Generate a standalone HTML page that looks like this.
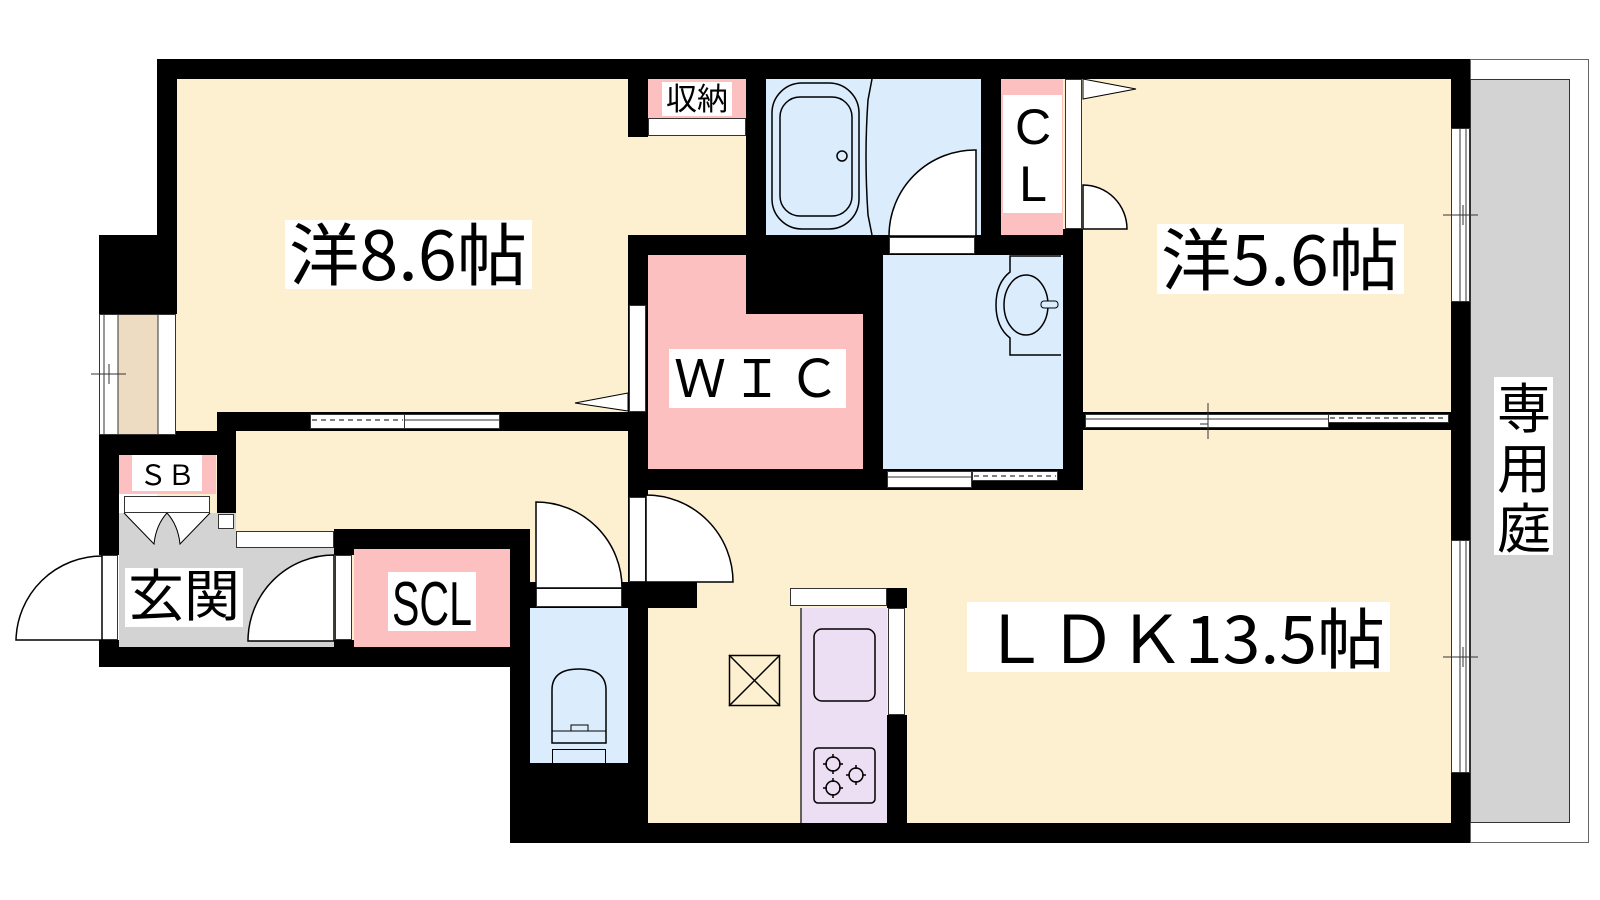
<!DOCTYPE html>
<html><head><meta charset="utf-8"><style>html,body{margin:0;padding:0;background:#fff}svg{display:block}</style></head>
<body>
<svg width="1600" height="900" viewBox="0 0 1600 900" xmlns="http://www.w3.org/2000/svg" font-family="'Liberation Sans','Noto Sans CJK JP',sans-serif">
<rect width="1600" height="900" fill="#fff"/>
<rect x="157" y="59" width="1294" height="784" fill="#fdf0d1"/>
<rect x="0" y="667" width="510" height="233" fill="#fff"/>
<rect x="1470.5" y="59.5" width="118" height="783" fill="#fff" stroke="#666"/>
<rect x="1470.5" y="79.5" width="99" height="743" fill="#d3d3d3" stroke="#333"/>
<g fill="#000">
<rect x="157" y="59" width="1313" height="20"/>
<rect x="157" y="59" width="20" height="176"/>
<rect x="99" y="235" width="78" height="79"/>
<rect x="217" y="412" width="411" height="19"/>
<rect x="99" y="431" width="137" height="24"/>
<rect x="99" y="431" width="20" height="124"/>
<rect x="217" y="412" width="19" height="136"/>
<rect x="99" y="640" width="20" height="27"/>
<rect x="99" y="647" width="431" height="20"/>
<rect x="334" y="529" width="196" height="20"/>
<rect x="334" y="549" width="20" height="6"/>
<rect x="334" y="640" width="20" height="7"/>
<rect x="510" y="529" width="20" height="314"/>
<rect x="510" y="763" width="138" height="80"/>
<rect x="510" y="582" width="187" height="26"/>
<rect x="628" y="79" width="20" height="58"/>
<rect x="628" y="235" width="20" height="608"/>
<rect x="746" y="59" width="20" height="176"/>
<rect x="981" y="59" width="20" height="176"/>
<rect x="628" y="235" width="455" height="20"/>
<rect x="628" y="235" width="255" height="255"/>
<rect x="628" y="469" width="455" height="21"/>
<rect x="1063" y="229" width="20" height="261"/>
<rect x="1083" y="412" width="368" height="18"/>
<rect x="1451" y="59" width="19" height="784"/>
<rect x="510" y="823" width="960" height="20"/>
<rect x="887" y="588" width="20" height="20"/>
<rect x="887" y="715" width="20" height="108"/>
</g>
<rect x="99.5" y="314.5" width="76" height="120" fill="#fff" stroke="#333"/>
<rect x="118" y="315" width="40" height="119" fill="#eddcc2"/>
<line x1="104" y1="314" x2="104" y2="435" stroke="#333"/>
<line x1="118" y1="314" x2="118" y2="435" stroke="#333"/>
<line x1="158" y1="314" x2="158" y2="435" stroke="#333"/>
<line x1="91" y1="374" x2="126" y2="374" stroke="#333"/>
<line x1="109" y1="364" x2="109" y2="384" stroke="#333"/>
<rect x="310.5" y="414.5" width="94" height="14" fill="#fff" stroke="#333"/>
<rect x="404.5" y="414.5" width="95" height="14" fill="#fff" stroke="#333"/>
<line x1="312" y1="420" x2="403" y2="420" stroke="#000" stroke-dasharray="5,4"/>
<line x1="404" y1="420" x2="500" y2="420" stroke="#333"/>
<rect x="1085.5" y="414.5" width="243" height="13" fill="#fff" stroke="#333"/>
<line x1="1085" y1="419" x2="1328" y2="419" stroke="#333"/>
<rect x="1328.5" y="414.5" width="120" height="8" fill="#fff" stroke="#333"/>
<line x1="1330" y1="418" x2="1447" y2="418" stroke="#000" stroke-dasharray="5,4"/>
<line x1="1208" y1="403" x2="1208" y2="439" stroke="#333"/>
<line x1="1200" y1="424" x2="1208" y2="424" stroke="#333"/>
<rect x="887.5" y="471.5" width="84" height="16" fill="#fff" stroke="#333"/>
<line x1="887" y1="477" x2="972" y2="477" stroke="#333"/>
<rect x="972.5" y="471.5" width="85" height="9" fill="#fff" stroke="#333"/>
<line x1="974" y1="476" x2="1056" y2="476" stroke="#000" stroke-dasharray="5,4"/>
<polygon points="628,393 575,403 628,411" fill="#fff" stroke="#000"/>
<polygon points="1083,79 1136,89 1083,99" fill="#fff" stroke="#000"/>
<rect x="1451.5" y="128.5" width="18" height="173" fill="#fff" stroke="#333"/>
<line x1="1460" y1="128" x2="1460" y2="302" stroke="#333"/><line x1="1466" y1="128" x2="1466" y2="302" stroke="#333"/>
<line x1="1443" y1="215" x2="1478" y2="215" stroke="#333"/><line x1="1463" y1="205" x2="1463" y2="225" stroke="#333"/>
<rect x="1451.5" y="540.5" width="18" height="232" fill="#fff" stroke="#333"/>
<line x1="1460" y1="540" x2="1460" y2="773" stroke="#333"/><line x1="1466" y1="540" x2="1466" y2="773" stroke="#333"/>
<line x1="1443" y1="657" x2="1478" y2="657" stroke="#333"/><line x1="1463" y1="647" x2="1463" y2="667" stroke="#333"/>
<rect x="119" y="455" width="97" height="39" fill="#fdc0c0"/>
<rect x="132" y="455" width="70" height="36" fill="#fff"/>
<text x="167" y="485" font-size="28" text-anchor="middle">ＳＢ</text>
<polygon points="119,513 236,513 236,547 334,547 334,647 119,647" fill="#d3d3d3"/>
<rect x="124.5" y="496.5" width="85" height="16" fill="#fff" stroke="#333"/>
<rect x="218.5" y="514.5" width="15" height="14" fill="#fff" stroke="#333"/>
<rect x="236.5" y="531.5" width="97" height="16" fill="#fff" stroke="#333"/>
<path d="M124,513 L154,544 Q156,525 167,513 M167,513 Q178,525 180,544 L210,513" fill="#fff" stroke="#000"/>
<rect x="101.5" y="555.5" width="16" height="84" fill="#fff" stroke="#333"/>
<path d="M102,556 A86,86 0 0 0 16,640 L102,640 Z" fill="#fff" stroke="#000" stroke-width="1.5"/>
<path d="M334,555 A86,86 0 0 0 248,641 L334,641 Z" fill="#fff" stroke="#000" stroke-width="1.5"/>
<rect x="335.5" y="555.5" width="16" height="84" fill="#fff" stroke="#333"/>
<rect x="125" y="568" width="118" height="59" fill="#fff"/>
<text x="184" y="616" font-size="56" text-anchor="middle" font-family="'Noto Sans CJK JP',sans-serif">玄関</text>
<rect x="354" y="549" width="156" height="98" fill="#fdc0c0"/>
<rect x="388" y="572" width="88" height="59" fill="#fff"/>
<text x="392" y="625" font-size="62" textLength="80" lengthAdjust="spacingAndGlyphs">SCL</text>
<rect x="530" y="608" width="97" height="155" fill="#dbecfd"/>
<rect x="536.5" y="588.5" width="85" height="18" fill="#fff" stroke="#333"/>
<path d="M536,502 A86,86 0 0 1 622,588 L536,588 Z" fill="#fff" stroke="#000" stroke-width="1.5"/>
<path d="M552,743 L552,690 Q552,669 579,669 Q606,669 606,690 L606,743 Z" fill="none" stroke="#000" stroke-width="1.5"/>
<line x1="552" y1="731" x2="606" y2="731" stroke="#000"/>
<rect x="571" y="725" width="17" height="6" fill="none" stroke="#000"/>
<rect x="552.5" y="749.5" width="53" height="14" fill="none" stroke="#000"/>
<rect x="629.5" y="497.5" width="16" height="84" fill="#fff" stroke="#333"/>
<path d="M646,495 A87,87 0 0 1 733,582 L646,582 Z" fill="#fff" stroke="#000" stroke-width="1.5"/>
<rect x="629.5" y="305.5" width="16" height="106" fill="#fff" stroke="#333"/>
<rect x="648" y="79" width="98" height="39" fill="#fdc0c0"/>
<rect x="648.5" y="118.5" width="97" height="17" fill="#fff" stroke="#333"/>
<rect x="662" y="82" width="70" height="34" fill="#fff"/>
<text x="697" y="110" font-size="31" text-anchor="middle" font-family="'Noto Sans CJK JP',sans-serif">収納</text>
<rect x="766" y="79" width="215" height="156" fill="#dbecfd"/>
<rect x="772" y="83" width="87" height="146" rx="30" fill="none" stroke="#000" stroke-width="1.5"/>
<rect x="780" y="97" width="72" height="119" rx="20" fill="none" stroke="#000" stroke-width="1.5"/>
<circle cx="842" cy="156" r="5" fill="none" stroke="#000" stroke-width="1.5"/>
<path d="M872,79 L868,100 Q864,156 868,215 L872,235" fill="none" stroke="#000" stroke-width="1.5"/>
<path d="M976,150 A86,86 0 0 0 889,236 L976,236 Z" fill="#fff" stroke="#000" stroke-width="1.5"/>
<rect x="889.5" y="237.5" width="85" height="16" fill="#fff" stroke="#333"/>
<rect x="1001" y="79" width="62" height="156" fill="#fdc0c0"/>
<rect x="1003" y="95" width="59" height="118" fill="#fff"/>
<text x="1033" y="144" font-size="50" text-anchor="middle">C</text>
<text x="1033" y="201" font-size="50" text-anchor="middle">L</text>
<rect x="1065.5" y="79.5" width="16" height="149" fill="#fff" stroke="#333"/>
<path d="M1083,185 A44,44 0 0 1 1127,229 L1083,229 Z" fill="#fff" stroke="#000" stroke-width="1.5"/>
<polygon points="648,255 746,255 746,314 863,314 863,469 648,469" fill="#fdc0c0"/>
<rect x="669" y="349" width="177" height="59" fill="#fff"/>
<text x="757" y="397" font-size="52" text-anchor="middle" textLength="166" lengthAdjust="spacing">ＷＩＣ</text>
<rect x="883" y="255" width="180" height="214" fill="#dbecfd"/>
<path d="M1061,256 L1010,256 L1010,272 Q996,283 996,305 Q996,327 1010,338 L1010,355 L1061,355" fill="none" stroke="#000" stroke-width="1.5"/>
<ellipse cx="1026" cy="305" rx="22" ry="30" fill="none" stroke="#000" stroke-width="1.5"/>
<rect x="1041" y="301" width="17" height="7" rx="3" fill="#dbecfd" stroke="#000"/>
<rect x="790.5" y="588.5" width="96" height="17" fill="#fff" stroke="#333"/>
<rect x="801" y="608" width="86" height="215" fill="#ecdff4"/>
<line x1="801" y1="608" x2="801" y2="823" stroke="#333" stroke-width="1.5"/>
<rect x="888.5" y="608.5" width="16" height="106" fill="#fff" stroke="#333"/>
<rect x="814" y="629" width="61" height="72" rx="8" fill="none" stroke="#000" stroke-width="1.5"/>
<rect x="814" y="748" width="61" height="55" rx="4" fill="none" stroke="#000" stroke-width="1.5"/>
<g fill="none" stroke="#000" stroke-width="1.5">
<circle cx="833" cy="764" r="7"/><circle cx="856" cy="775" r="7"/><circle cx="833" cy="788" r="7"/>
<path d="M833,754v4M833,770v4M823,764h4M839,764h4M856,765v4M856,781v4M846,775h4M862,775h4M833,778v4M833,794v4M823,788h4M839,788h4"/>
</g>
<rect x="729.5" y="655.5" width="50" height="50" fill="none" stroke="#000" stroke-width="1.5"/>
<path d="M729,655 L780,706 M780,655 L729,706" stroke="#000" stroke-width="1.5"/>
<rect x="285" y="220" width="247" height="69" fill="#fff"/>
<text x="289" y="280" font-size="68" textLength="238" lengthAdjust="spacingAndGlyphs" font-family="'Noto Sans CJK JP',sans-serif">洋8.6帖</text>
<rect x="1157" y="224" width="247" height="70" fill="#fff"/>
<text x="1161" y="285" font-size="68" textLength="238" lengthAdjust="spacingAndGlyphs" font-family="'Noto Sans CJK JP',sans-serif">洋5.6帖</text>
<rect x="967" y="602" width="423" height="70" fill="#fff"/>
<text x="981" y="663" font-size="66" textLength="404" lengthAdjust="spacingAndGlyphs" font-family="'Noto Sans CJK JP',sans-serif">ＬＤＫ13.5帖</text>
<rect x="1494" y="377" width="59" height="178" fill="#fff"/>
<g font-size="54" text-anchor="middle" font-family="'Noto Sans CJK JP',sans-serif">
<text x="1524" y="428">専</text><text x="1524" y="488">用</text><text x="1524" y="548">庭</text>
</g>
</svg>
</body></html>
